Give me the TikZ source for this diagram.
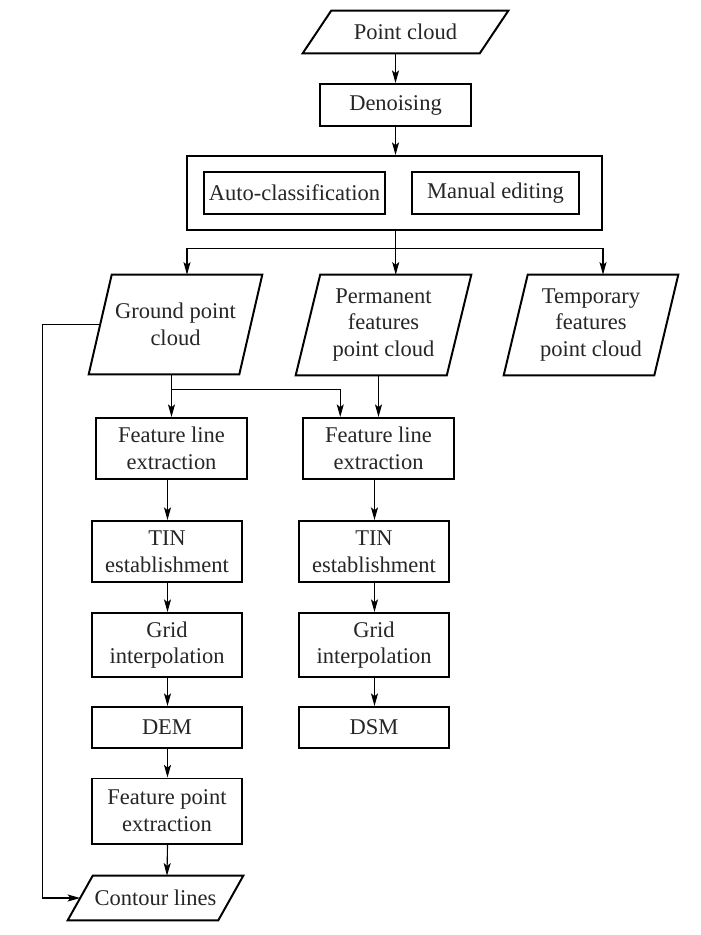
\documentclass[tikz,border=0pt]{standalone}
\usepackage{fontspec}
\setmainfont{Liberation Serif}
\usetikzlibrary{arrows.meta,positioning,calc}

\begin{document}
\begin{tikzpicture}[
  x=0.025cm, y=-0.025cm,
  every node/.style={font=\fontsize{16}{19}\selectfont, text=black!85, align=center, inner sep=0pt},
  border/.style={line width=1.4pt},
  procbox/.style={rectangle, draw, border, minimum width=3.75cm},
  databox/.style={rectangle, minimum width=4.35cm, minimum height=2.5cm},
  arrow/.style={-{Stealth[length=9pt,width=5pt,inset=2pt]}, line width=0.8pt},
]
\fill[white] (0,0) rectangle (700,935);
\useasboundingbox (0,0) rectangle (700,935);

% Top part
\node[databox, minimum width=5.125cm, minimum height=1.05cm] (pc) at (405.5,32) {Point cloud};
\node[procbox, minimum width=3.775cm, minimum height=1.05cm] (denoise) at (395.5,105) {Denoising};
\node[procbox, minimum width=10.375cm, minimum height=1.85cm] (classify) at (394.5,193) {};
\node[procbox, minimum width=4.525cm, minimum height=1.05cm] (auto) at (294.5,193) {Auto-classification};
\node[procbox, minimum width=4.175cm, minimum height=1.05cm] (manual) at (495.5,193) {Manual editing};

% Point clouds
\node[databox, minimum width=4.325cm, minimum height=2.475cm] (ground) at (175.5,324.5) {Ground point\\cloud};
\node[databox, minimum width=4.375cm] (permanent) at (383.5,325) {Permanent\\features\\point cloud};
\node[databox] (temporary) at (591,325) {Temporary\\features\\point cloud};

% DEM column
\node[procbox, minimum width=3.775cm, minimum height=1.525cm] (fl1) at (171.5,448.5) {Feature line\\extraction};
\node[procbox, minimum height=1.525cm] (tin1) at (167,551.5) {TIN\\establishment};
\node[procbox, minimum height=1.6cm] (grid1) at (167,645) {Grid\\interpolation};
\node[procbox, minimum height=1.025cm] (dem) at (167,727.5) {DEM};
\node[procbox, minimum height=1.625cm] (fpe) at (167,811) {Feature point\\extraction};
\node[databox, minimum width=4.375cm, minimum height=1.1cm] (contour) at (155.5,898) {Contour lines};

% DSM column
\node[procbox, minimum width=3.775cm, minimum height=1.525cm] (fl2) at (378.5,448.5) {Feature line\\extraction};
\node[procbox, minimum height=1.525cm] (tin2) at (374,551.5) {TIN\\establishment};
\node[procbox, minimum height=1.6cm] (grid2) at (374,645) {Grid\\interpolation};
\node[procbox, minimum height=1.025cm] (dsm) at (374,727.5) {DSM};

% Parallelogram outlines
\foreach \n/\s in {pc/28.5, ground/23, permanent/24.5, temporary/24, contour/25} {
  \draw[border] (\n.south west) -- ($(\n.north west)+(\s,0)$) -- (\n.north east)
    -- ($(\n.south east)+(-\s,0)$) -- cycle;
  \coordinate (\n-top) at ($(\n.north)+(\s/2,0)$);
  \coordinate (\n-bottom) at ($(\n.south)+(-\s/2,0)$);
  \coordinate (\n-left) at ($(\n.west)+(\s/2,0)$);
}

% Arrows
\coordinate (split) at (396,248.5);
\coordinate (cross) at (171.5,389.5);
\coordinate (loop) at (42.5,0);
\draw[arrow] (pc-bottom -| denoise) -- (denoise);
\draw[arrow] (denoise) -- (denoise |- classify.north);
\draw[arrow] (classify.south -| permanent-top) -- (permanent-top);
\draw[arrow] (split) -| (ground-top);
\draw[arrow] (split) -| (temporary-top);
\draw[arrow] (ground-bottom -| fl1) -- (fl1);
\draw[arrow] (cross) -| ($(fl2.north west)!0.25!(fl2.north east)$);
\draw[arrow] (permanent-bottom -| fl2) -- (fl2);
\draw[arrow] ($(tin1 |- fl1.south)+(0.5,0)$) -- ($(tin1.north)+(0.5,0)$);
\draw[arrow] ($(tin2 |- fl2.south)+(0.5,0)$) -- ($(tin2.north)+(0.5,0)$);
\foreach \a/\b in {tin1/grid1, grid1/dem, dem/fpe, tin2/grid2, grid2/dsm} {
  \draw[arrow] ($(\a.south)+(0.5,0)$) -- ($(\b.north)+(0.5,0)$);
}
\draw[arrow] ($(fpe.south)+(0.5,0)$) -- (fpe |- contour-top);
\draw[arrow] (ground-left) -- (ground-left -| loop) |- (contour-left);

\end{tikzpicture}
\end{document}
